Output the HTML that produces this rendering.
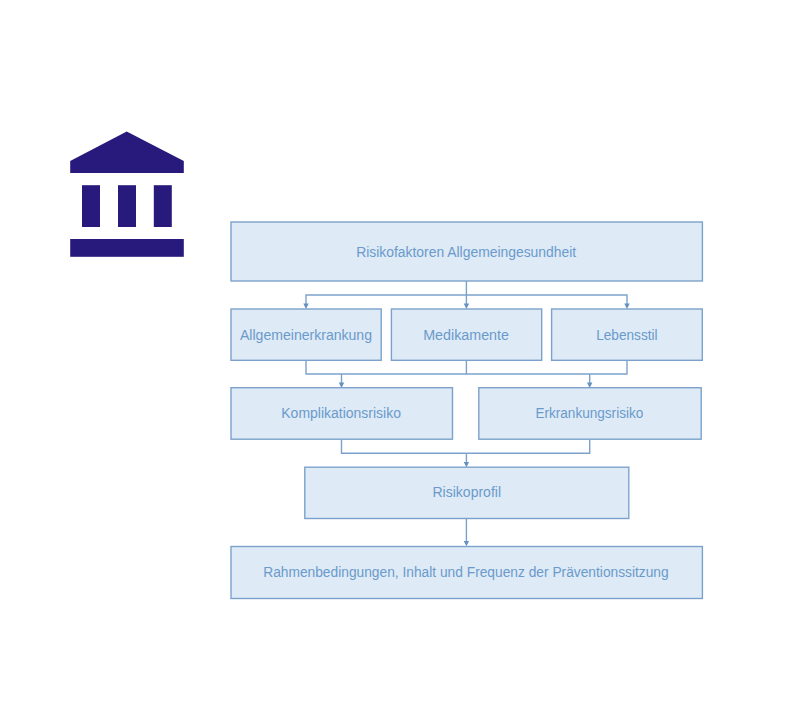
<!DOCTYPE html>
<html lang="de"><head><meta charset="utf-8"><title>Risikofaktoren Allgemeingesundheit</title>
<style>
html,body{margin:0;padding:0;background:#fff;}
body{width:786px;height:704px;overflow:hidden;position:relative;font-family:"Liberation Sans",sans-serif;}
svg{position:absolute;left:0;top:0;display:block}
text{font-family:"Liberation Sans",sans-serif;font-size:14.0px;fill:#6A9ACB;}
.b{fill:#DEEAF6;stroke:#7CA2CB;stroke-width:1.4}
.l{fill:none;stroke:#7CA2CB;stroke-width:1.4}
.a{fill:#6391C2}
.i{fill:#28197C}
</style></head><body>
<svg width="786" height="704" viewBox="0 0 786 704">
<g class="i"><polygon points="70.2,161 126.7,131.5 183.8,161 183.8,173 70.2,173"/><rect x="82" y="185.2" width="18" height="41.8"/><rect x="118" y="185.2" width="18" height="41.8"/><rect x="153.8" y="185.2" width="18" height="41.8"/><rect x="70.2" y="239" width="113.6" height="17.8"/></g>
<g><path class="l" d="M466.4 281V305 M306 305V295H627V305"/><polygon class="a" points="303.3,303.6 308.7,303.6 306.0,308.9"/><polygon class="a" points="463.7,303.6 469.1,303.6 466.4,308.9"/><polygon class="a" points="624.3,303.6 629.7,303.6 627.0,308.9"/><path class="l" d="M306 360.3V374H627V360.3 M466.4 360.3V374 M341.5 374V384 M589.7 374V384"/><polygon class="a" points="338.8,382.6 344.2,382.6 341.5,387.9"/><polygon class="a" points="587.0,382.6 592.4,382.6 589.7,387.9"/><path class="l" d="M341.5 439.2V453.3H589.7V439.2 M466.4 453.3V463"/><polygon class="a" points="463.7,462.0 469.1,462.0 466.4,467.3"/><path class="l" d="M466.4 518.5V542"/><polygon class="a" points="463.7,541.0 469.1,541.0 466.4,546.3"/></g>
<rect class="b" x="231.00" y="222.00" width="471.40" height="59.00"/><text x="356.20" y="256.60" textLength="220.00" lengthAdjust="spacingAndGlyphs">Risikofaktoren Allgemeingesundheit</text>
<rect class="b" x="231.00" y="309.00" width="150.20" height="51.30"/><text x="240.00" y="339.60" textLength="132.00" lengthAdjust="spacingAndGlyphs">Allgemeinerkrankung</text>
<rect class="b" x="391.40" y="309.00" width="150.30" height="51.30"/><text x="423.20" y="339.60" textLength="85.80" lengthAdjust="spacingAndGlyphs">Medikamente</text>
<rect class="b" x="551.60" y="309.00" width="150.70" height="51.30"/><text x="596.20" y="339.60" textLength="61.40" lengthAdjust="spacingAndGlyphs">Lebensstil</text>
<rect class="b" x="231.00" y="387.70" width="221.50" height="51.50"/><text x="281.30" y="418.30" textLength="119.70" lengthAdjust="spacingAndGlyphs">Komplikationsrisiko</text>
<rect class="b" x="478.80" y="387.70" width="222.40" height="51.50"/><text x="535.40" y="418.30" textLength="107.90" lengthAdjust="spacingAndGlyphs">Erkrankungsrisiko</text>
<rect class="b" x="304.80" y="467.20" width="324.00" height="51.30"/><text x="432.50" y="497.30" textLength="68.50" lengthAdjust="spacingAndGlyphs">Risikoprofil</text>
<rect class="b" x="231.00" y="546.50" width="471.40" height="52.00"/><text x="263.20" y="577.10" textLength="405.50" lengthAdjust="spacingAndGlyphs">Rahmenbedingungen, Inhalt und Frequenz der Präventionssitzung</text>
</svg>
</body></html>
